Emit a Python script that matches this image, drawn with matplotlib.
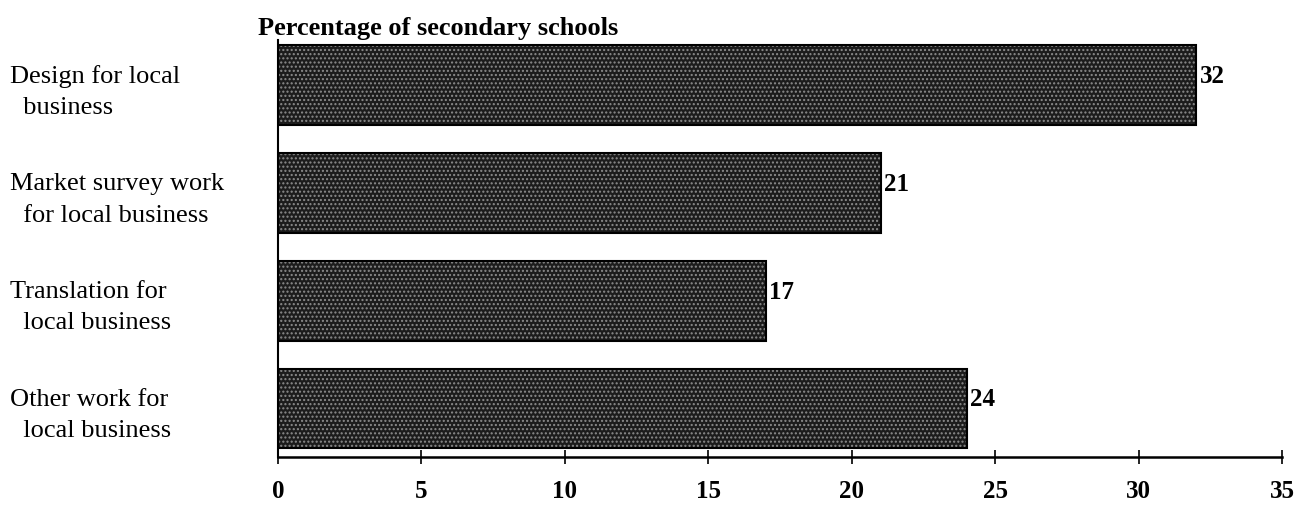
"""
Horizontal bar chart: work done by secondary schools for local business
Output: out.png
"""
import matplotlib
matplotlib.use("Agg")
import matplotlib.pyplot as plt
import matplotlib.transforms as mtrans

# Data
categories = [
    "Design for local\n  business",
    "Market survey work\n  for local business",
    "Translation for\n  local business",
    "Other work for\n  local business",
]
values = [32, 21, 17, 24]
x_ticks = [0, 5, 10, 15, 20, 25, 30, 35]

plt.rcParams["font.family"] = ["Liberation Serif", "DejaVu Serif"]
plt.rcParams["hatch.linewidth"] = 1.0

fig = plt.figure(figsize=(12.98, 5.18), dpi=100)
ax = fig.add_axes([0.214, 0.118, 0.774, 0.805])

ypos = list(range(len(values)))
# dark stippled fill
ax.barh(ypos, values, height=0.74, color="#1c1c1c", edgecolor="#8c8c8c",
        linewidth=0, hatch="....", zorder=2)
# solid outline on top
ax.barh(ypos, values, height=0.74, fill=False, edgecolor="black",
        linewidth=1.5, zorder=3)

for y, v in zip(ypos, values):
    ax.text(v + 0.12, y - 0.08, str(v), va="center", ha="left",
            fontsize=18, fontweight="bold", color="black")

ax.set_xlim(0, 35)
ax.set_ylim(3.45, -0.42)
ax.set_xticks(x_ticks)
ax.set_xticklabels([str(t) for t in x_ticks], fontsize=18, fontweight="bold")
ax.set_yticks(ypos)
ax.set_yticklabels(categories, fontsize=19, ha="left", linespacing=1.55)

# labels sit a little below the bar centres, as in the scan
shift = mtrans.ScaledTranslation(0, -12 / 72, fig.dpi_scale_trans)
for lbl in ax.get_yticklabels():
    lbl.set_transform(lbl.get_transform() + shift)

ax.tick_params(axis="x", direction="inout", length=10, width=1.2, pad=12)
ax.tick_params(axis="y", length=0, pad=193)

for side in ("top", "right"):
    ax.spines[side].set_visible(False)
ax.spines["left"].set_linewidth(1.5)
ax.spines["bottom"].set_linewidth(1.8)

fig.text(0.199, 0.945, "Percentage of secondary schools", fontsize=19,
         fontweight="bold", ha="left", va="center")

plt.savefig("out.png", dpi=100)
print("Saved: out.png")
